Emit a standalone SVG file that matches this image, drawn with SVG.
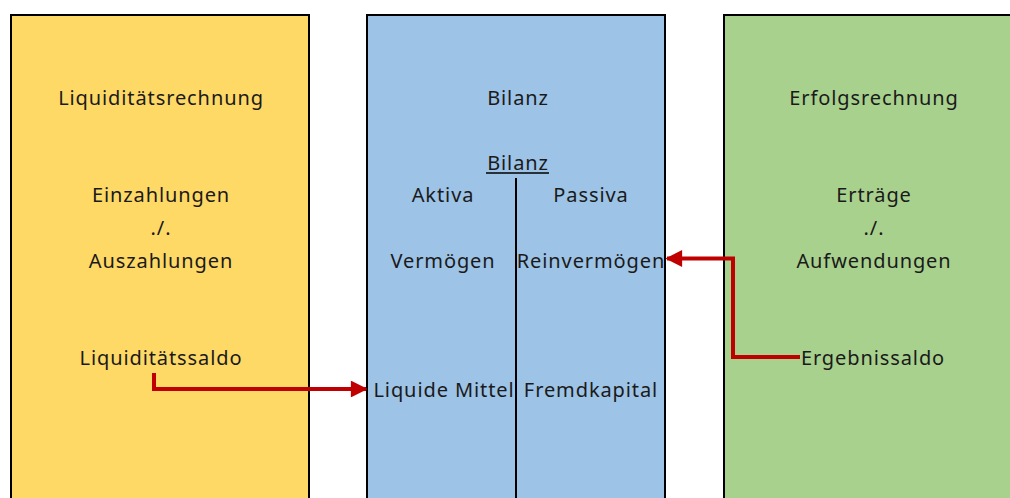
<svg xmlns="http://www.w3.org/2000/svg" width="1010" height="498" viewBox="0 0 1010 498">
<defs>
<style>
.box{stroke:#000;stroke-width:2}
.t{font-family:"Noto Sans","Liberation Sans",sans-serif;font-size:20px;letter-spacing:0.9px;fill:#1a1a1a;text-anchor:middle}
.con{fill:none;stroke:#C00000;stroke-width:4}
</style>
<marker id="ah" viewBox="0 0 10 10" refX="9" refY="5" markerWidth="4.4" markerHeight="4.2" markerUnits="strokeWidth" orient="auto">
<path d="M0,0 L10,5 L0,10 z" fill="#C00000"/>
</marker>
</defs>
<rect width="1010" height="498" fill="#fff"/>
<g id="liquiditaet">
<rect class="box" x="11" y="15" width="298" height="500" fill="#FFD966"/>
<text class="t" x="161" y="105">Liquiditätsrechnung</text>
<text class="t" x="161" y="202">Einzahlungen</text>
<text class="t" x="161" y="235">./.</text>
<text class="t" x="161" y="268">Auszahlungen</text>
<text class="t" x="161" y="365">Liquiditätssaldo</text>
</g>
<g id="bilanz">
<rect class="box" x="367" y="15" width="298" height="500" fill="#9DC3E6"/>
<text class="t" x="518" y="105">Bilanz</text>
<text class="t" x="518" y="170">Bilanz</text>
<line x1="486" y1="173" x2="549" y2="173" stroke="#000" stroke-width="1.5"/>
<line x1="516" y1="178" x2="516" y2="498" stroke="#000" stroke-width="2"/>
<text class="t" x="443" y="202">Aktiva</text>
<text class="t" x="591" y="202">Passiva</text>
<text class="t" x="443" y="268">Vermögen</text>
<text class="t" x="591" y="268">Reinvermögen</text>
<text class="t" x="444" y="397">Liquide Mittel</text>
<text class="t" x="591" y="397">Fremdkapital</text>
</g>
<g id="erfolg">
<rect class="box" x="724" y="15" width="300" height="500" fill="#A9D18E"/>
<text class="t" x="874" y="105">Erfolgsrechnung</text>
<text class="t" x="874" y="202">Erträge</text>
<text class="t" x="874" y="235">./.</text>
<text class="t" x="874" y="268">Aufwendungen</text>
<text class="t" x="873" y="365">Ergebnissaldo</text>
</g>
<g id="connectors">
<polyline class="con" points="154,373 154,389 366,389" marker-end="url(#ah)"/>
<polyline class="con" points="800,357 733,357 733,258.5 667,258.5" marker-end="url(#ah)"/>
</g>
</svg>
